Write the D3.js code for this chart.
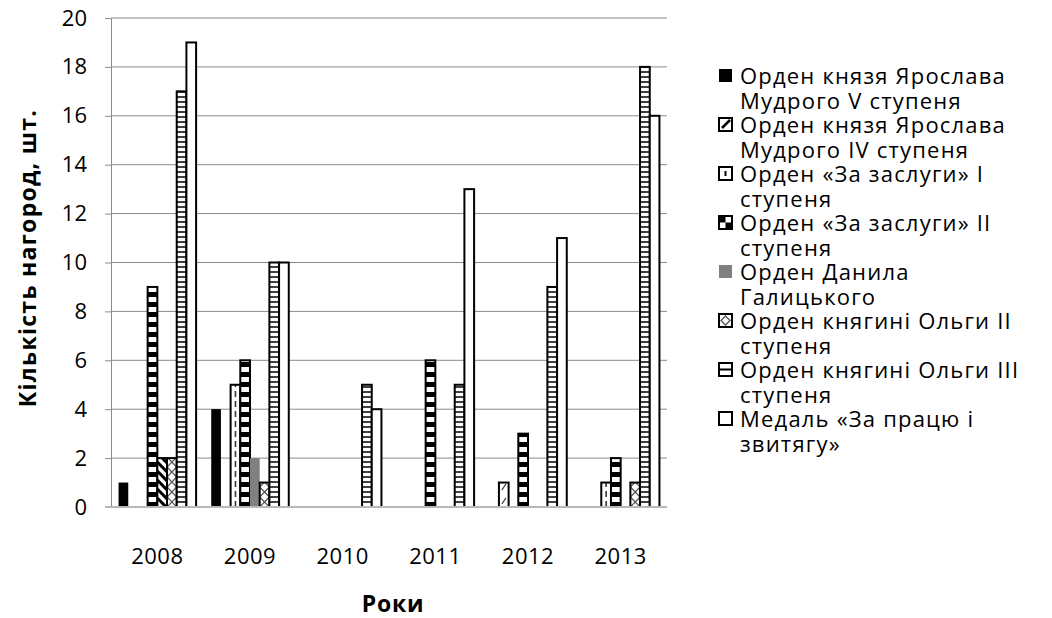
<!DOCTYPE html>
<html>
<head>
<meta charset="utf-8">
<script src="https://cdn.jsdelivr.net/npm/d3@7"></script>
<style>
  body { margin: 0; background: #fff; }
  text { font-family: "Open Sans", sans-serif; fill: #000; }
</style>
</head>
<body>
<svg id="chart" width="1052" height="618"></svg>
<script>
// data
const years = ["2008", "2009", "2010", "2011", "2012", "2013"];
const yaroslav5 = [1, 4, 0, 0, 0, 0];
const yaroslav4 = [0, 0, 0, 0, 1, 0];
const merit1 = [0, 5, 0, 0, 0, 1];
const merit2 = [9, 6, 0, 6, 3, 2];
const danylo = [2, 2, 0, 0, 0, 0];
const olga2 = [2, 1, 0, 0, 0, 1];
const olga3 = [17, 10, 5, 5, 9, 18];
const medal = [19, 10, 4, 13, 11, 16];
const yTicks = [0, 2, 4, 6, 8, 10, 12, 14, 16, 18, 20];
const legendLines = [
  ["Орден князя Ярослава", "Мудрого V ступеня"],
  ["Орден князя Ярослава", "Мудрого IV ступеня"],
  ["Орден «За заслуги» I", "ступеня"],
  ["Орден «За заслуги» II", "ступеня"],
  ["Орден Данила", "Галицького"],
  ["Орден княгині Ольги II", "ступеня"],
  ["Орден княгині Ольги III", "ступеня"],
  ["Медаль «За працю і", "звитягу»"]
];

const allSeries = [yaroslav5, yaroslav4, merit1, merit2, danylo, olga2, olga3, medal];
const kinds = ["solid", "diag", "dash", "checker", "gray", "cross", "ladder", "white"];
// the 2008 bar of the 5th series is drawn with thick stripes in the original
const pointKind = { "4-0": "stripes" };

const svg = d3.select("#chart");
const defs = svg.append("defs");

const x0 = d3.scaleBand().domain(years).range([111, 667]);
const x1 = d3.scaleBand().domain(d3.range(allSeries.length)).range([0, x0.bandwidth()]).paddingOuter(0.78);
const y = d3.scaleLinear().domain([0, 20]).range([507, 18]);

// grid
svg.append("g")
  .selectAll("line")
  .data(yTicks.slice(1))
  .enter()
  .append("line")
  .attr("x1", 111).attr("x2", 667)
  .attr("y1", d => y(d)).attr("y2", d => y(d))
  .attr("stroke", "#8a8a8a").attr("stroke-width", 1);

// y axis
const yAxis = svg.append("g")
  .attr("transform", "translate(111,0)")
  .call(d3.axisLeft(y).tickValues(yTicks).tickSize(6).tickPadding(18));
yAxis.select(".domain").attr("stroke", "#8a8a8a");
yAxis.selectAll(".tick line").attr("stroke", "#8a8a8a");
yAxis.selectAll(".tick text")
  .style("font-family", "'Open Sans', sans-serif")
  .style("font-size", "22px")
  .attr("fill", "#000");

let clipId = 0;
function drawBar(g, kind, x, yTop, w, h) {
  const base = yTop + h;
  if (kind === "solid" || kind === "gray") {
    g.append("rect").attr("x", x).attr("y", yTop).attr("width", w).attr("height", h)
      .attr("fill", kind === "solid" ? "#000" : "#808080");
    return;
  }
  const id = "clip" + (clipId++);
  defs.append("clipPath").attr("id", id)
    .append("rect").attr("x", x).attr("y", yTop).attr("width", w).attr("height", h);
  g.append("rect").attr("x", x).attr("y", yTop).attr("width", w).attr("height", h).attr("fill", "#fff");
  const inner = g.append("g").attr("clip-path", "url(#" + id + ")");
  if (kind === "ladder") {
    for (let yy = base - 5; yy > yTop; yy -= 5) {
      inner.append("line").attr("x1", x).attr("x2", x + w).attr("y1", yy).attr("y2", yy)
        .attr("stroke", "#000").attr("stroke-width", 1.6);
    }
  } else if (kind === "checker") {
    let k = 0;
    for (let yy = base - 5; yy > yTop - 5; yy -= 5) {
      if (k % 2 === 0) {
        inner.append("rect").attr("x", x).attr("y", yy).attr("width", w).attr("height", 5).attr("fill", "#000");
      }
      k++;
    }
  } else if (kind === "dash") {
    inner.append("line").attr("x1", x + w / 2).attr("x2", x + w / 2).attr("y1", base).attr("y2", yTop)
      .attr("stroke", "#333").attr("stroke-width", 1.6).attr("stroke-dasharray", "6,4");
  } else if (kind === "cross") {
    for (let yy = base; yy > yTop - 10; yy -= 10) {
      inner.append("line").attr("x1", x).attr("x2", x + w).attr("y1", yy).attr("y2", yy - 10)
        .attr("stroke", "#555").attr("stroke-width", 1.2);
      inner.append("line").attr("x1", x).attr("x2", x + w).attr("y1", yy - 10).attr("y2", yy)
        .attr("stroke", "#555").attr("stroke-width", 1.2);
    }
  } else if (kind === "diag") {
    for (let yy = base; yy > yTop; yy -= 14) {
      inner.append("line").attr("x1", x + 3).attr("x2", x + 7).attr("y1", yy - 3).attr("y2", yy - 9)
        .attr("stroke", "#333").attr("stroke-width", 1.2);
    }
  } else if (kind === "stripes") {
    for (let yy = base + 10; yy > yTop - 12; yy -= 9) {
      inner.append("line").attr("x1", x).attr("x2", x + w).attr("y1", yy - 10).attr("y2", yy)
        .attr("stroke", "#000").attr("stroke-width", 3);
    }
  }
  g.append("rect").attr("x", x).attr("y", yTop).attr("width", w).attr("height", h)
    .attr("fill", "none").attr("stroke", "#000").attr("stroke-width", 2);
}

// bars
const barsG = svg.append("g");
allSeries.forEach(function (vals, s) {
  vals.forEach(function (v, i) {
    if (v <= 0) return;
    const kind = pointKind[s + "-" + i] || kinds[s];
    const bx = x0(years[i]) + x1(s);
    drawBar(barsG, kind, bx, y(v), x1.bandwidth(), y(0) - y(v));
  });
});

// baseline
svg.append("line").attr("x1", 105).attr("x2", 667).attr("y1", y(0)).attr("y2", y(0))
  .attr("stroke", "#b8b8b8").attr("stroke-width", 2);

// x labels
svg.append("g")
  .selectAll("text")
  .data(years)
  .enter()
  .append("text")
  .attr("x", d => x0(d) + x0.bandwidth() / 2)
  .attr("y", 564)
  .attr("text-anchor", "middle")
  .style("font-size", "22px")
  .style("letter-spacing", "0.5px")
  .text(d => d);

// axis titles
svg.append("text")
  .attr("x", 393).attr("y", 612)
  .attr("text-anchor", "middle")
  .style("font-size", "23px").style("font-weight", "bold")
  .style("letter-spacing", "0.8px")
  .text("Роки");
svg.append("text")
  .attr("transform", "translate(36,258) rotate(-90)")
  .attr("text-anchor", "middle")
  .style("font-size", "23px").style("font-weight", "bold")
  .style("letter-spacing", "1.3px")
  .text("Кількість нагород, шт.");

// legend
const legend = svg.append("g");
function drawIcon(g, kind, x, yy, s) {
  if (kind === "solid" || kind === "gray") {
    g.append("rect").attr("x", x).attr("y", yy).attr("width", s).attr("height", s)
      .attr("fill", kind === "solid" ? "#000" : "#808080");
    return;
  }
  g.append("rect").attr("x", x).attr("y", yy).attr("width", s).attr("height", s).attr("fill", "#fff");
  if (kind === "diag") {
    g.append("line").attr("x1", x + 3).attr("y1", yy + s - 3).attr("x2", x + s - 2).attr("y2", yy + 2)
      .attr("stroke", "#000").attr("stroke-width", 2.5);
  } else if (kind === "dash") {
    g.append("line").attr("x1", x + s / 2).attr("x2", x + s / 2).attr("y1", yy + 4).attr("y2", yy + s - 4)
      .attr("stroke", "#000").attr("stroke-width", 2);
  } else if (kind === "checker") {
    g.append("rect").attr("x", x).attr("y", yy).attr("width", s / 2).attr("height", s / 2).attr("fill", "#000");
    g.append("rect").attr("x", x + s / 2).attr("y", yy + s / 2).attr("width", s / 2).attr("height", s / 2).attr("fill", "#000");
  } else if (kind === "cross") {
    g.append("path")
      .attr("d", `M${x + s / 2},${yy + 2}L${x + s - 2},${yy + s / 2}L${x + s / 2},${yy + s - 2}L${x + 2},${yy + s / 2}Z`)
      .attr("fill", "none").attr("stroke", "#555").attr("stroke-width", 1.3);
  } else if (kind === "ladder") {
    g.append("line").attr("x1", x).attr("x2", x + s).attr("y1", yy + s / 2).attr("y2", yy + s / 2)
      .attr("stroke", "#000").attr("stroke-width", 2);
  }
  g.append("rect").attr("x", x).attr("y", yy).attr("width", s).attr("height", s)
    .attr("fill", "none").attr("stroke", "#000").attr("stroke-width", 2);
}

legendLines.forEach(function (lines, s) {
  const cy = 76 + s * 49;
  drawIcon(legend, kinds[s], 719, cy - 7, 13);
  const t = legend.append("text")
    .attr("x", 740).attr("y", cy + 8)
    .style("font-size", "22px")
    .style("letter-spacing", "1.2px");
  lines.forEach(function (ln, k) {
    t.append("tspan").attr("x", 740).attr("dy", k === 0 ? 0 : 24.5).text(ln);
  });
});
</script>
</body>
</html>
